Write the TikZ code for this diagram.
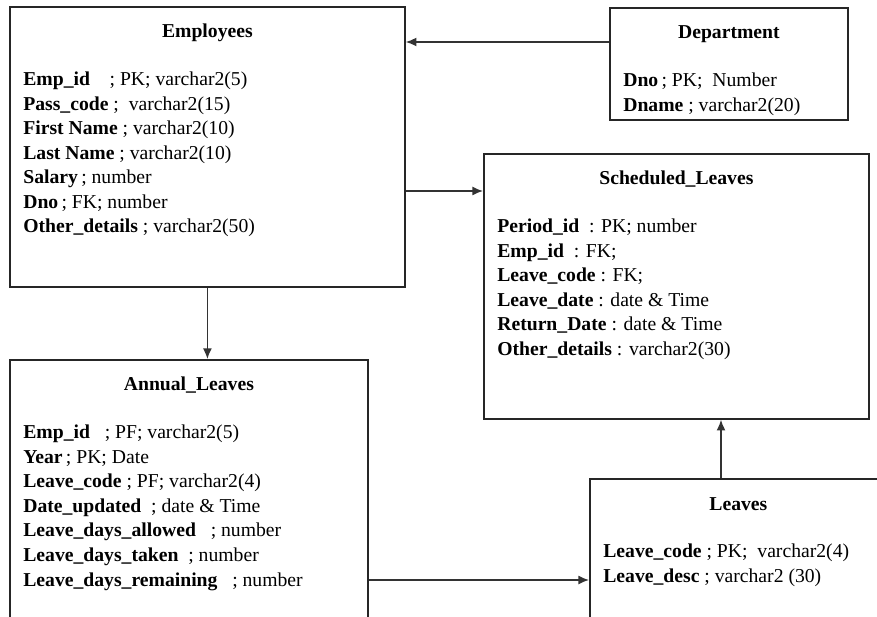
\documentclass[tikz,border=0pt]{standalone}
\usepackage{fontspec}
\setmainfont{Liberation Serif}
\usepackage{tikz}
\usetikzlibrary{arrows.meta, positioning, calc}
\newcommand{\pxu}{0.61pt}

\begin{document}
\fontsize{12}{14.95}\selectfont
\begin{tikzpicture}[x=\pxu, y=-\pxu,
    tbl/.style={draw=black!85, line width=1.1pt, anchor=north west, inner sep=0pt},
    ttl/.style={font=\bfseries, anchor=base, inner sep=0pt},
    fields/.style={align=left, anchor=base west, inner sep=0pt},
    fk/.style={draw=black!80, line width=0.9pt, -{Latex[length=6.5pt, width=5.5pt]}}
]
\useasboundingbox (0,0) rectangle (877,617);
\clip (0,0) rectangle (877,617);

% Tables
\node[tbl, minimum width=395*\pxu, minimum height=280*\pxu] (emp) at (9,6) {};
\node[tbl, minimum width=238*\pxu, minimum height=112*\pxu] (dept) at (609,7) {};
\node[tbl, minimum width=385*\pxu, minimum height=265*\pxu] (sched) at (483,153) {};
\node[tbl, minimum width=358*\pxu, minimum height=290*\pxu] (ann) at (9,359) {};
\node[tbl, minimum width=297*\pxu, minimum height=170*\pxu] (leaves) at (589,478) {};

% Titles
\node[ttl] (empT) at ($(emp.north)+(0,32)$) {Employees};
\node[ttl] (deptT) at ($(dept.north)+(0,32)$) {Department};
\node[ttl] (schedT) at ($(sched.north)+(0,32)$) {Scheduled\_Leaves};
\node[ttl] (annT) at ($(ann.north)+(0,32)$) {Annual\_Leaves};
\node[ttl] (leavesT) at ($(leaves.north)+(0,32)$) {Leaves};

% Columns (base = last row)
\node[fields] (empF) at ($(emp.north west)+(14,227)$) {
    \textbf{Emp\_id}~~~~; PK; varchar2(5)\\
    \textbf{Pass\_code} ;~~varchar2(15)\\
    \textbf{First Name} ; varchar2(10)\\
    \textbf{Last Name} ; varchar2(10)\\
    \textbf{Salary}\,; number\\
    \textbf{Dno}\,; FK; number\\
    \textbf{Other\_details} ; varchar2(50)
};
\node[fields] (deptF) at ($(dept.north west)+(14,104.5)$) {
    \textbf{Dno}\,; PK;~~Number\\
    \textbf{Dname} ; varchar2(20)
};
\node[fields] (schedF) at ($(sched.north west)+(14,202.5)$) {
    \textbf{Period\_id}~~: PK; number\\
    \textbf{Emp\_id}~~: FK;\\
    \textbf{Leave\_code} : FK;\\
    \textbf{Leave\_date} : date \& Time\\
    \textbf{Return\_Date} : date \& Time\\
    \textbf{Other\_details} : varchar2(30)
};
\node[fields] (annF) at ($(ann.north west)+(14,227)$) {
    \textbf{Emp\_id}~~~; PF; varchar2(5)\\
    \textbf{Year}\,; PK; Date\\
    \textbf{Leave\_code} ; PF; varchar2(4)\\
    \textbf{Date\_updated}~~; date \& Time\\
    \textbf{Leave\_days\_allowed}~~~; number\\
    \textbf{Leave\_days\_taken}~~; number\\
    \textbf{Leave\_days\_remaining}~~~; number
};
\node[fields] (leavesF) at ($(leaves.north west)+(14,104.5)$) {
    \textbf{Leave\_code} ; PK;~~varchar2(4)\\
    \textbf{Leave\_desc} ; varchar2 (30)
};

% Relationships
\draw[fk] (dept.west |- 0,42) -- (emp.east |- 0,42);
\draw[fk] (emp.east |- 0,191) -- (sched.west |- 0,191);
\draw[fk] (emp.south) -- (ann.north -| emp.south);
\draw[fk] (ann.east |- 0,580) -- (leaves.west |- 0,580);
\draw[fk] (leaves.north -| 721,0) -- (sched.south -| 721,0);
\end{tikzpicture}
\end{document}
